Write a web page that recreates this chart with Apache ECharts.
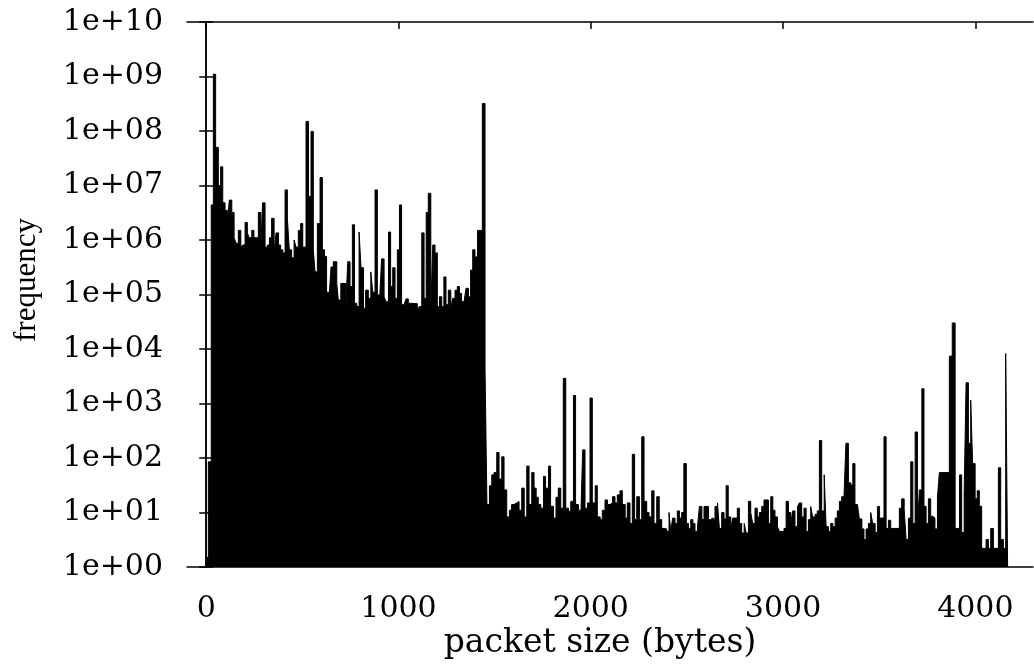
<!DOCTYPE html>
<html>
<head>
  <meta charset="utf-8">
  <title>packet size histogram</title>
  <script src="https://cdn.jsdelivr.net/npm/echarts@6/dist/echarts.min.js"></script>
  <style>
    html, body { margin: 0; padding: 0; background: #fff; }
  </style>
</head>
<body>
  <div id="main" style="width:1034px;height:666px;"></div>
  <script type="text/javascript">
    // bin start (packet size, bytes) and frequency of each bin
    var sizes = [
      0, 11, 26, 37, 49, 63, 75, 86, 98, 110, 120, 133, 145, 155, 167, 180, 190, 202, 214, 224,
      237, 248, 259, 271, 284, 293, 306, 318, 329, 340, 353, 363, 376, 387, 398, 410, 422, 432, 444, 457,
      467, 479, 491, 502, 519, 532, 545, 557, 566, 578, 592, 604, 615, 626, 639, 649, 661, 679, 687, 700,
      726, 736, 748, 760, 771, 783, 795, 805, 818, 829, 843, 856, 866, 878, 890, 903, 912, 925, 935, 948,
      959, 970, 982, 994, 1005, 1016, 1029, 1039, 1051, 1063, 1098, 1108, 1121, 1133, 1144, 1155, 1168, 1178, 1190, 1202,
      1213, 1225, 1236, 1247, 1259, 1272, 1282, 1294, 1306, 1317, 1328, 1341, 1351, 1364, 1375, 1386, 1398, 1411, 1436, 1450,
      1460, 1473, 1485, 1497, 1511, 1523, 1537, 1549, 1563, 1577, 1588, 1601, 1615, 1627, 1641, 1654, 1667, 1679, 1693, 1705,
      1716, 1727, 1740, 1754, 1765, 1780, 1791, 1806, 1819, 1831, 1844, 1857, 1870, 1884, 1896, 1910, 1921, 1936, 1948, 1958,
      1970, 1983, 1996, 2008, 2023, 2034, 2049, 2060, 2074, 2087, 2100, 2113, 2126, 2138, 2152, 2164, 2179, 2190, 2204, 2216,
      2228, 2239, 2253, 2265, 2277, 2291, 2303, 2317, 2329, 2343, 2356, 2369, 2381, 2395, 2407, 2416, 2426, 2438, 2450, 2461,
      2473, 2484, 2497, 2508, 2520, 2531, 2542, 2555, 2565, 2578, 2589, 2612, 2623, 2634, 2646, 2659, 2669, 2681, 2693, 2704,
      2715, 2728, 2738, 2762, 2773, 2785, 2798, 2808, 2820, 2832, 2842, 2854, 2866, 2877, 2889, 2901, 2924, 2936, 2947, 2958,
      2971, 2981, 3005, 3016, 3028, 3040, 3050, 3062, 3075, 3085, 3097, 3109, 3120, 3132, 3144, 3154, 3167, 3178, 3189, 3201,
      3214, 3224, 3236, 3248, 3259, 3271, 3282, 3293, 3305, 3317, 3327, 3340, 3352, 3363, 3374, 3387, 3397, 3410, 3421, 3432,
      3444, 3456, 3466, 3479, 3491, 3502, 3525, 3536, 3548, 3560, 3605, 3617, 3630, 3640, 3652, 3664, 3675, 3687, 3699, 3709,
      3722, 3733, 3744, 3756, 3768, 3779, 3790, 3803, 3813, 3865, 3880, 3895, 3918, 3929, 3942, 3952, 3964, 3976, 3986, 3999,
      4010, 4021, 4033, 4056, 4068, 4080, 4094, 4120, 4132, 4146, 4158, 4168
    ];
    var freq = [
      1.5, 85, 4.4e6, 1.1e9, 5.0e7, 1.0e7, 2.2e7, 4.8e6, 3.5e6, 2.0e6, 5.4e6, 3.2e6, 1.1e6, 8.7e5, 1.5e6, 7.4e5, 8.1e5, 2.1e6, 1.35e6, 1.1e6,
      1.5e6, 1.1e6, 1.1e6, 3.2e6, 7.4e5, 4.8e6, 7.4e5, 8.1e5, 1.1e6, 2.5e6, 5.8e5, 1.35e6, 8.1e5, 6.6e5, 5.8e5, 8.3e6, 2.5e6, 6.6e5, 4.7e5, 1.0e6,
      7.4e5, 1.5e6, 2.0e6, 7.4e5, 1.5e8, 6.3e6, 9.8e7, 6.6e5, 2.6e5, 2.0e6, 1.4e7, 6.6e5, 5.0e5, 1.1e5, 8.7e4, 3.2e5, 4.0e5, 1.6e5, 7.9e4, 1.6e5,
      6.0e4, 4.0e5, 1.4e5, 1.9e6, 6.9e4, 6.0e4, 1.4e6, 3.1e5, 5.6e4, 1.2e5, 8.5e4, 2.6e5, 1.1e5, 8.3e6, 9.8e4, 9.1e4, 4.5e5, 9.1e4, 7.4e4, 1.4e6,
      1.4e5, 3.1e5, 8.5e4, 6.6e5, 4.4e6, 6.5e4, 6.0e4, 8.3e4, 6.9e4, 6.8e4, 5.2e4, 6.0e4, 1.35e6, 8.5e4, 3.2e6, 7.2e6, 5.2e4, 8.1e5, 5.8e5, 6.0e4,
      9.1e4, 6.0e4, 2.1e5, 6.5e4, 1.2e5, 5.6e4, 8.5e4, 1.2e5, 1.4e5, 1.05e5, 7.4e4, 7.9e4, 1.3e5, 9.1e4, 2.8e5, 6.6e5, 4.9e5, 1.5e6, 3.2e8, 4500,
      14, 31, 49, 54, 126, 41, 105, 26, 8.3, 11, 14, 15, 16, 11, 28, 8.3, 71, 14, 54, 28,
      19, 14, 12, 46, 28, 71, 13, 7.9, 19, 28, 12, 2900, 12, 10.5, 16, 1400, 14, 11, 7.9, 141,
      12, 15, 1260, 15, 31, 8.3, 7.4, 11, 17, 14, 15, 19.5, 15, 21, 25, 14, 7.9, 15, 6.3, 117,
      7.4, 19.5, 7.4, 245, 16, 10, 8.3, 25, 6.3, 19.5, 7.4, 5.1, 5.0, 4.5, 10, 4.5, 7.9, 6.3, 10.7, 7.9,
      10, 79, 6.3, 5.1, 7.4, 6.3, 4.5, 5.5, 12.9, 7.4, 12.9, 7.4, 7.9, 7.4, 12.9, 15, 5.1, 10, 7.6, 31,
      8.3, 5.1, 7.9, 12, 6.3, 4.2, 6.3, 4.2, 16, 10, 6.3, 12, 8.3, 10, 12.9, 17, 6.3, 19.5, 11, 8.3,
      5.5, 4.5, 5.1, 16, 10, 6.3, 10.7, 5.5, 12.9, 15, 8.3, 12, 4.5, 7.4, 12.9, 8.3, 9.3, 10.7, 209, 10.7,
      49, 5.5, 4.5, 6.3, 5.5, 7.9, 10.7, 16, 19.5, 18.6, 186, 35, 32, 79, 14, 14.5, 7.6, 5.0, 3.2, 5.0,
      6.3, 10, 6.3, 4.3, 12.9, 7.9, 245, 5.1, 7.2, 5.1, 12, 17.8, 11.5, 3.2, 7.9, 85, 6.3, 300, 5.1, 26,
      1860, 13, 6.3, 17.8, 8.5, 7.9, 5.0, 19, 54, 7400, 30000, 5.1, 49, 4.3, 23, 2400, 186, 1150, 79, 17.8,
      25, 13, 2.2, 3.2, 2.2, 5.1, 2.2, 66, 3.2, 2.2, 8300, 1
    ];
    var xTicks = [0, 1000, 2000, 3000, 4000];
    var yTicks = [1, 1e1, 1e2, 1e3, 1e4, 1e5, 1e6, 1e7, 1e8, 1e9, 1e10];

    var hist = sizes.map(function (s, i) { return [s, freq[i]]; });

    var myChart = echarts.init(document.getElementById('main'));

    var tickFont = { fontFamily: 'DejaVu Serif', fontSize: 30, color: '#000' };
    var frame = { show: true, lineStyle: { color: '#000', width: 1.5 } };
    var tickLine = { color: '#000', width: 1.5 };

    function logLabel(v) {
      var e = Math.round(Math.log10(v));
      return '1e+' + (e < 10 ? '0' + e : e);
    }

    var option = {
      animation: false,
      backgroundColor: '#fff',
      grid: { left: 187, top: 22, width: 846, height: 545, outerBoundsMode: 'none' },
      xAxis: [{
        type: 'value', position: 'bottom', min: -100, max: 4300,
        axisLine: frame,
        axisTick: { inside: true, length: 7, customValues: xTicks, lineStyle: tickLine },
        axisLabel: Object.assign({ customValues: xTicks, margin: 27, formatter: function (v) { return String(v); } }, tickFont),
        splitLine: { show: false }
      }, {
        type: 'value', position: 'top', min: -100, max: 4300,
        axisLine: frame,
        axisTick: { inside: true, length: 7, customValues: xTicks, lineStyle: tickLine },
        axisLabel: { show: false },
        splitLine: { show: false }
      }],
      yAxis: [{
        type: 'log', logBase: 10, min: 1, max: 1e10, position: 'left',
        axisLine: frame,
        axisTick: { inside: true, length: 7, customValues: yTicks, lineStyle: tickLine },
        minorTick: { show: false },
        axisLabel: Object.assign({ customValues: yTicks, margin: 24, formatter: logLabel }, tickFont),
        splitLine: { show: false }
      }, {
        type: 'log', logBase: 10, min: 1, max: 1e10, position: 'right',
        axisLine: frame,
        axisTick: { inside: true, length: 7, customValues: yTicks, lineStyle: tickLine },
        axisLabel: { show: false },
        splitLine: { show: false }
      }],
      graphic: [{
        type: 'text', x: 27, y: 280, rotation: Math.PI / 2,
        style: { text: 'frequency', font: '31px "Liberation Serif"', fill: '#000', align: 'center', verticalAlign: 'middle' }
      }, {
        type: 'text', x: 600, y: 643,
        style: { text: 'packet size (bytes)', font: '33px "DejaVu Serif"', fill: '#000', align: 'center', verticalAlign: 'middle' }
      }],
      series: [{
        type: 'line',
        step: 'end',
        symbol: 'none',
        xAxisIndex: 0,
        yAxisIndex: 0,
        data: hist,
        lineStyle: { color: '#000', width: 1 },
        areaStyle: { color: '#000', opacity: 1, origin: 'start' }
      }]
    };

    myChart.setOption(option);
  </script>
</body>
</html>
